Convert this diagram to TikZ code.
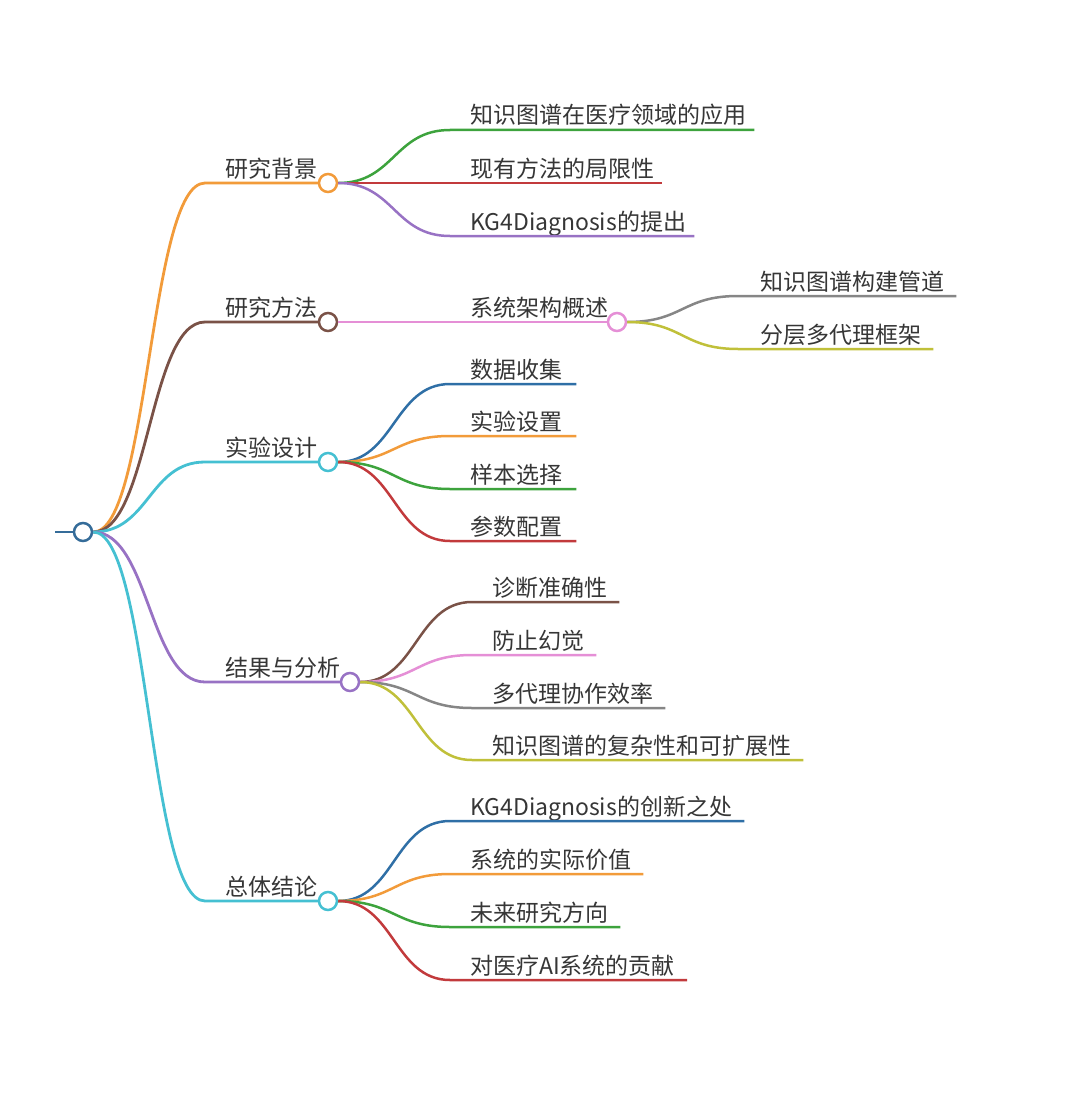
\documentclass[tikz,border=0pt]{standalone}
\usepackage{fontspec}
\setmainfont{Noto Sans CJK SC}
\usepackage{tikz}
\usetikzlibrary{calc}
\definecolor{txtgray}{HTML}{363636}
\definecolor{cRoot}{HTML}{356C99}
\definecolor{cOrange}{HTML}{F29B3A}
\definecolor{cBrown}{HTML}{7A5247}
\definecolor{cTeal}{HTML}{45C0D2}
\definecolor{cPurple}{HTML}{9872C4}
\definecolor{cGreen}{HTML}{3DA33D}
\definecolor{cRed}{HTML}{C23A3C}
\definecolor{cPink}{HTML}{E58FD6}
\definecolor{cGrey}{HTML}{868686}
\definecolor{cOlive}{HTML}{C0C03A}
\definecolor{cBlue}{HTML}{2F6FA6}

\begin{document}
\begin{tikzpicture}[x=1pt, y=-1pt,
    every node/.style={font=\fontsize{23}{27}\selectfont, text=txtgray, inner sep=0pt},
    dot/.style={circle, draw, fill=white, line width=2.5pt, minimum size=18pt},
    trunk/.style={line width=2.8pt},
    twig/.style={line width=2.5pt}]
        \useasboundingbox (0,0) rectangle (1080,1097);

        % root and first level
        \coordinate (rootin) at (55,532);
        \node[dot, draw=cRoot] (root) at (83,532) {};
        \draw[trunk, cRoot] (rootin) -- (root);

        \node[dot, draw=cOrange] (bg) at (328,183) {};
        \node[dot, draw=cBrown] (mt) at (328,322) {};
        \node[dot, draw=cTeal] (ex) at (328,462) {};
        \node[dot, draw=cPurple] (rs) at (350,682) {};
        \node[dot, draw=cTeal] (cc) at (328,901) {};

        \node[anchor=base west] (bgt) at (225,177) {研究背景};
        \node[anchor=base west] (mtt) at (225,316) {研究方法};
        \node[anchor=base west] (ext) at (225,456) {实验设计};
        \node[anchor=base west] (rst) at (225,676) {结果与分析};
        \node[anchor=base west] (cct) at (225,895) {总体结论};

        \coordinate (bgs) at (205,183);
        \coordinate (mts) at (205,322);
        \coordinate (exs) at (205,462);
        \coordinate (rss) at (205,682);
        \coordinate (ccs) at (205,901);

        \draw[trunk, cOrange] (root.east) .. controls +(56,0) and +(-56,0) .. (bgs) -- (bg);
        \draw[trunk, cBrown] (root.east) .. controls +(56,0) and +(-56,0) .. (mts) -- (mt);
        \draw[trunk, cTeal] (root.east) .. controls +(56,0) and +(-56,0) .. (exs) -- (ex);
        \draw[trunk, cPurple] (root.east) .. controls +(56,0) and +(-56,0) .. (rss) -- (rs);
        \draw[trunk, cTeal] (root.east) .. controls +(56,0) and +(-56,0) .. (ccs) -- (cc);

        % research background
        \coordinate (bg1s) at (450,130);
        \coordinate (bg2s) at (450,183);
        \coordinate (bg3s) at (450,236);
        \node[anchor=base west] (bg1) at (470,124) {知识图谱在医疗领域的应用};
        \node[anchor=base west] (bg2) at (470,177) {现有方法的局限性};
        \node[anchor=base west] (bg3) at (470,230) {KG4Diagnosis的提出};
        \draw[twig, cGreen] (bg.east) .. controls +(56,0) and +(-56,0) .. (bg1s) -- ($(bg1.east |- bg1s)+(8,0)$);
        \draw[twig, cRed] (bg.east) .. controls +(56,0) and +(-56,0) .. (bg2s) -- ($(bg2.east |- bg2s)+(8,0)$);
        \draw[twig, cPurple] (bg.east) .. controls +(56,0) and +(-56,0) .. (bg3s) -- ($(bg3.east |- bg3s)+(8,0)$);

        % method
        \node[dot, draw=cPink] (sa) at (617,322) {};
        \node[anchor=base west] (sat) at (470,316) {系统架构概述};
        \draw[twig, cPink] (mt) -- (sa);
        \coordinate (sa1s) at (738,296);
        \coordinate (sa2s) at (738,349);
        \node[anchor=base west] (sa1) at (760,290) {知识图谱构建管道};
        \node[anchor=base west] (sa2) at (760,343) {分层多代理框架};
        \draw[twig, cGrey] (sa.east) .. controls +(56,0) and +(-56,0) .. (sa1s) -- ($(sa1.east |- sa1s)+(12,0)$);
        \draw[twig, cOlive] (sa.east) .. controls +(56,0) and +(-56,0) .. (sa2s) -- ($(sa2.east |- sa2s)+(12,0)$);

        % experiment design
        \coordinate (ex1s) at (450,384);
        \coordinate (ex2s) at (450,436);
        \coordinate (ex3s) at (450,489);
        \coordinate (ex4s) at (450,541);
        \node[anchor=base west] (ex1) at (470,378) {数据收集};
        \node[anchor=base west] (ex2) at (470,430) {实验设置};
        \node[anchor=base west] (ex3) at (470,483) {样本选择};
        \node[anchor=base west] (ex4) at (470,535) {参数配置};
        \draw[twig, cBlue] (ex.east) .. controls +(56,0) and +(-56,0) .. (ex1s) -- ($(ex1.east |- ex1s)+(14,0)$);
        \draw[twig, cOrange] (ex.east) .. controls +(56,0) and +(-56,0) .. (ex2s) -- ($(ex2.east |- ex2s)+(14,0)$);
        \draw[twig, cGreen] (ex.east) .. controls +(56,0) and +(-56,0) .. (ex3s) -- ($(ex3.east |- ex3s)+(14,0)$);
        \draw[twig, cRed] (ex.east) .. controls +(56,0) and +(-56,0) .. (ex4s) -- ($(ex4.east |- ex4s)+(14,0)$);

        % results and analysis
        \coordinate (rs1s) at (472,602);
        \coordinate (rs2s) at (472,655);
        \coordinate (rs3s) at (472,708);
        \coordinate (rs4s) at (472,760);
        \node[anchor=base west] (rs1) at (492,596) {诊断准确性};
        \node[anchor=base west] (rs2) at (492,649) {防止幻觉};
        \node[anchor=base west] (rs3) at (492,702) {多代理协作效率};
        \node[anchor=base west] (rs4) at (492,754) {知识图谱的复杂性和可扩展性};
        \draw[twig, cBrown] (rs.east) .. controls +(56,0) and +(-56,0) .. (rs1s) -- ($(rs1.east |- rs1s)+(12,0)$);
        \draw[twig, cPink] (rs.east) .. controls +(56,0) and +(-56,0) .. (rs2s) -- ($(rs2.east |- rs2s)+(12,0)$);
        \draw[twig, cGrey] (rs.east) .. controls +(56,0) and +(-56,0) .. (rs3s) -- ($(rs3.east |- rs3s)+(12,0)$);
        \draw[twig, cOlive] (rs.east) .. controls +(56,0) and +(-56,0) .. (rs4s) -- ($(rs4.east |- rs4s)+(12,0)$);

        % conclusion
        \coordinate (cc1s) at (450,821);
        \coordinate (cc2s) at (450,874);
        \coordinate (cc3s) at (450,927);
        \coordinate (cc4s) at (450,980);
        \node[anchor=base west] (cc1) at (470,815) {KG4Diagnosis的创新之处};
        \node[anchor=base west] (cc2) at (470,868) {系统的实际价值};
        \node[anchor=base west] (cc3) at (470,921) {未来研究方向};
        \node[anchor=base west] (cc4) at (470,974) {对医疗AI系统的贡献};
        \draw[twig, cBlue] (cc.east) .. controls +(56,0) and +(-56,0) .. (cc1s) -- ($(cc1.east |- cc1s)+(12,0)$);
        \draw[twig, cOrange] (cc.east) .. controls +(56,0) and +(-56,0) .. (cc2s) -- ($(cc2.east |- cc2s)+(12,0)$);
        \draw[twig, cGreen] (cc.east) .. controls +(56,0) and +(-56,0) .. (cc3s) -- ($(cc3.east |- cc3s)+(12,0)$);
        \draw[twig, cRed] (cc.east) .. controls +(56,0) and +(-56,0) .. (cc4s) -- ($(cc4.east |- cc4s)+(12,0)$);
    \end{tikzpicture}
\end{document}
